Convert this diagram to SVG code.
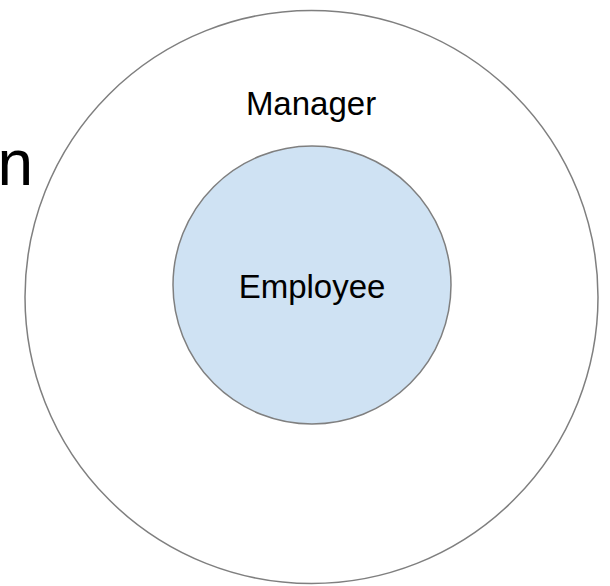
<svg xmlns="http://www.w3.org/2000/svg" width="610" height="586" viewBox="0 0 610 586">
  <style>
    .ring { stroke: #7f7f7f; stroke-width: 1.5; }
    .lbl { font-family: "Liberation Sans", Arial, sans-serif; fill: #000000; }
  </style>
  <rect width="610" height="586" fill="#ffffff"/>
  <text class="lbl" x="33" y="185" font-size="64" text-anchor="end">n</text>
  <g id="manager">
    <circle class="ring" cx="311.5" cy="297" r="286.5" fill="#ffffff"/>
    <text class="lbl" x="311" y="115" font-size="33" text-anchor="middle">Manager</text>
  </g>
  <g id="employee">
    <circle class="ring" cx="312" cy="285" r="139" fill="#cfe2f3"/>
    <text class="lbl" x="312" y="298" font-size="33" text-anchor="middle">Employee</text>
  </g>
  <g id="connectors"></g>
</svg>
